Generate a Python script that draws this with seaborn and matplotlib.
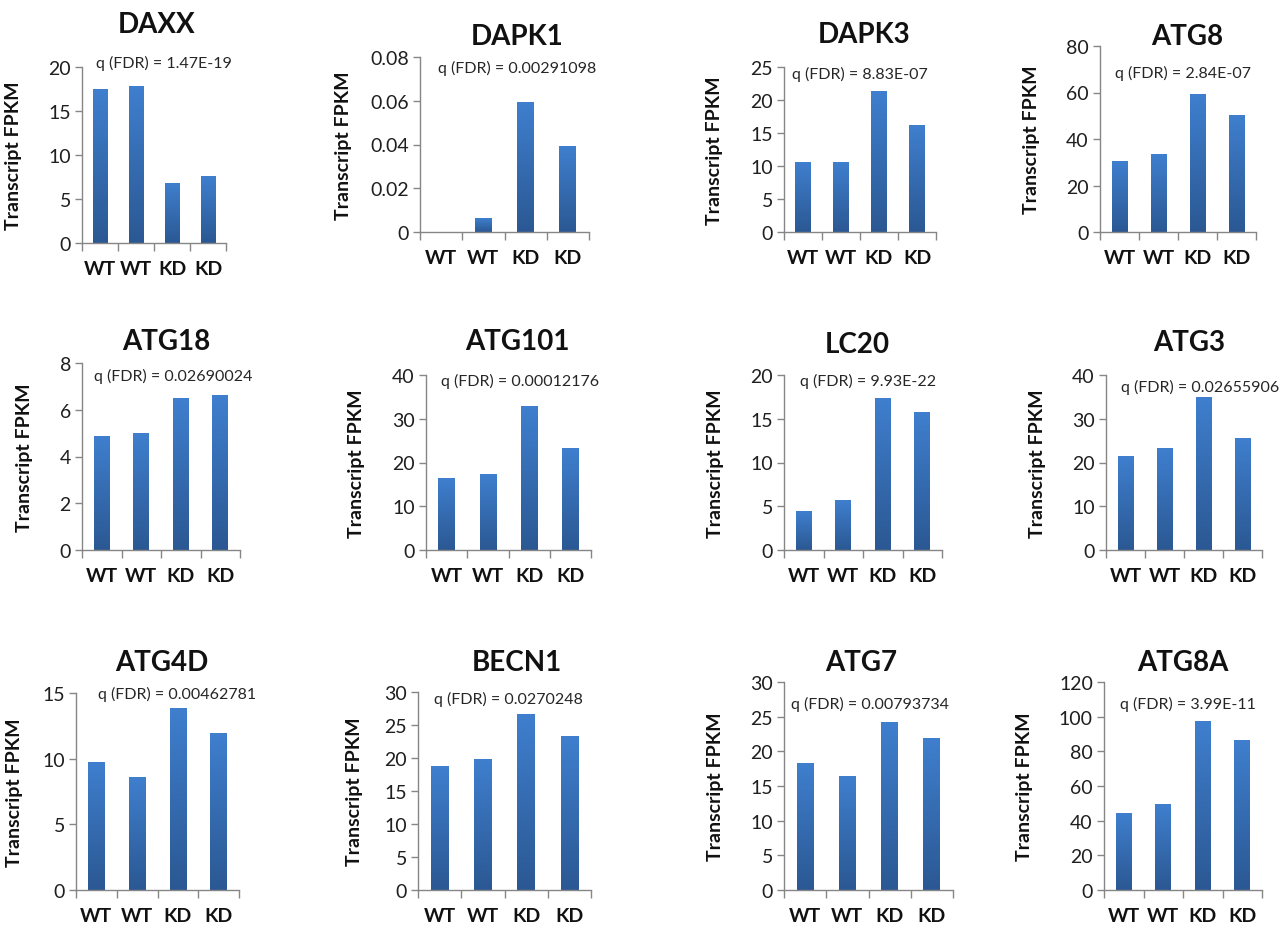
import numpy as np
import pandas as pd
import matplotlib
matplotlib.use("Agg")
import matplotlib.pyplot as plt
import seaborn as sns
from matplotlib.colors import LinearSegmentedColormap
from matplotlib.ticker import MultipleLocator, FuncFormatter, FixedLocator, NullFormatter

# data
samples = ["WT1", "WT2", "KD1", "KD2"]
sample_labels = ["WT", "WT", "KD", "KD"]

genes = ["DAXX", "DAPK1", "DAPK3", "ATG8",
         "ATG18", "ATG101", "LC20", "ATG3",
         "ATG4D", "BECN1", "ATG7", "ATG8A"]
fdr_labels = ["1.47E-19", "0.00291098", "8.83E-07", "2.84E-07",
              "0.02690024", "0.00012176", "9.93E-22", "0.02655906",
              "0.00462781", "0.0270248", "0.00793734", "3.99E-11"]

daxx = [17.4, 17.8, 6.8, 7.6]
dapk1 = [0.0, 0.006, 0.059, 0.039]
dapk3 = [10.5, 10.5, 21.3, 16.1]
atg8 = [30.2, 33.2, 59.0, 50.2]
atg18 = [4.85, 4.97, 6.5, 6.6]
atg101 = [16.3, 17.3, 32.9, 23.2]
lc20 = [4.4, 5.7, 17.3, 15.7]
atg3 = [21.3, 23.2, 34.8, 25.4]
atg4d = [9.7, 8.6, 13.8, 11.9]
becn1 = [18.7, 19.7, 26.6, 23.2]
atg7 = [18.3, 16.3, 24.1, 21.9]
atg8a = [44.0, 49.5, 97.0, 86.0]

values = [daxx, dapk1, dapk3, atg8, atg18, atg101, lc20, atg3,
          atg4d, becn1, atg7, atg8a]
y_max = [20, 0.08, 25, 80, 8, 40, 20, 40, 15, 30, 30, 120]
y_step = [5, 0.02, 5, 20, 2, 10, 5, 10, 5, 5, 5, 20]

# layout in pixels: axes box (left, right, top, bottom), title xy, note xy, ylabel x
W, H = 1279, 928
boxes = [(82, 226, 68, 244), (420, 589, 58, 233), (784, 936, 68, 233), (1100, 1256, 47, 233),
         (82, 240, 364, 551), (426, 591, 376, 551), (784, 942, 376, 551), (1106, 1262, 376, 551),
         (76, 239, 694, 891), (418, 591, 693, 891), (784, 953, 683, 891), (1104, 1262, 683, 891)]
title_xy = [(157, 25), (517, 37), (864, 35), (1187, 37),
            (166, 342), (517, 342), (857, 345), (1189, 343),
            (162, 663), (517, 663), (861, 663), (1183, 663)]
note_xy = [(164, 63), (517, 68), (860, 74), (1183, 73),
           (173, 376), (520, 381), (868, 381), (1200, 387),
           (177, 694), (508, 699), (870, 704), (1188, 704)]
ylab_x = [22, 352, 723, 1040, 33, 365, 724, 1046, 23, 363, 724, 1033]

sns.set_style("white")
plt.rcParams["font.family"] = ["Lato", "DejaVu Sans"]

bar_cmap = LinearSegmentedColormap.from_list("bar", ["#2b5893", "#3f7fce"])
spine_color = "#868686"
grad = np.linspace(0, 1, 256).reshape(-1, 1)

fig = plt.figure(figsize=(W / 100, H / 100), dpi=100)

for i, gene in enumerate(genes):
    l, r, t, b = boxes[i]
    ax = fig.add_axes([l / W, 1 - b / H, (r - l) / W, (b - t) / H])
    df = pd.DataFrame({"sample": samples, "fpkm": values[i]})
    sns.barplot(data=df, x="sample", y="fpkm", order=samples, ax=ax,
                width=0.4, color="#3f7fce", saturation=1, errorbar=None)

    # vertical gradient fill like the original bars
    for p in ax.patches:
        x0, y0 = p.get_x(), p.get_y()
        w, h = p.get_width(), p.get_height()
        if h <= 0:
            continue
        ax.imshow(grad, extent=[x0, x0 + w, y0, y0 + h], origin="lower",
                  cmap=bar_cmap, aspect="auto", zorder=2)
        p.set_facecolor("none")
        p.set_edgecolor("none")

    ax.set_xlim(-0.5, 3.5)
    ax.set_ylim(0, y_max[i])

    for s in ["top", "right"]:
        ax.spines[s].set_visible(False)
    for s in ["left", "bottom"]:
        ax.spines[s].set_color(spine_color)
        ax.spines[s].set_linewidth(1)

    ax.yaxis.set_major_locator(MultipleLocator(y_step[i]))
    ax.yaxis.set_major_formatter(FuncFormatter(lambda v, _: f"{v:g}"))
    ax.tick_params(axis="y", direction="out", length=5, width=1, color=spine_color,
                   labelsize=14, labelcolor="#1f1f1f", pad=3, left=True)

    ax.xaxis.set_major_locator(FixedLocator([-0.5, 0.5, 1.5, 2.5, 3.5]))
    ax.xaxis.set_major_formatter(NullFormatter())
    ax.xaxis.set_minor_locator(FixedLocator(range(4)))
    ax.set_xticklabels(sample_labels, minor=True, fontweight="bold", fontsize=14)
    ax.tick_params(axis="x", which="major", direction="out", length=6, width=1,
                   color=spine_color, bottom=True)
    ax.tick_params(axis="x", which="minor", length=0, pad=12, labelcolor="#111111")
    ax.set_xlabel("")

    ax.set_ylabel("Transcript FPKM", fontsize=14, fontweight="bold", color="#111111")
    ax.yaxis.set_label_coords(ylab_x[i] / W, 1 - (t + b) / 2 / H, transform=fig.transFigure)

    tx, ty = title_xy[i]
    fig.text(tx / W, 1 - ty / H, gene, ha="center", va="center",
             fontsize=20, fontweight="bold", color="#111111")
    nx, ny = note_xy[i]
    fig.text(nx / W, 1 - ny / H, f"q (FDR) = {fdr_labels[i]}", ha="center", va="center",
             fontsize=11.5, color="#262626")

fig.savefig("out.png", dpi=100)
